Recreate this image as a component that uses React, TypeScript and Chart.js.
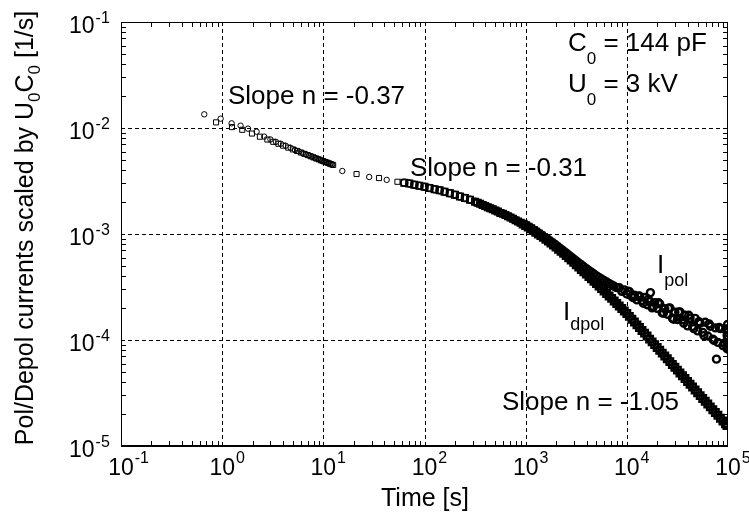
import { useEffect, useRef } from 'react';
import { Chart, registerables } from 'chart.js';

Chart.register(...registerables);

const FONT = '"Liberation Sans", Arial, Helvetica, sans-serif';

// ---- axes ----
const xDecades = [0.1, 1, 10, 100, 1000, 10000, 100000];
const xTickExps = ['-1', '0', '1', '2', '3', '4', '5'];
const yDecades = [1e-5, 1e-4, 1e-3, 1e-2, 1e-1];
const yTickExps = ['-5', '-4', '-3', '-2', '-1'];
const minorFactors = [2, 3, 4, 5, 6, 7, 8, 9];

// ---- data: early / sparse part ----
const polEarlyT = [0.665, 0.966, 1.24, 1.52, 1.80, 2.19, 2.6, 3.0, 3.4, 3.8, 4.25, 4.75, 5.25, 5.75, 6.25, 6.75, 7.25, 7.75, 8.25, 8.75, 9.25, 9.75, 10.25, 10.75, 11.25, 11.75, 12.25, 15.4, 28.4, 42.3];
const polEarlyI = [0.01346, 0.01225, 0.01107, 0.01052, 0.00986, 0.00923, 0.0083, 0.0078, 0.0074, 0.0071, 0.0068, 0.0065, 0.0062, 0.0060, 0.0058, 0.00565, 0.0055, 0.00536, 0.00523, 0.00512, 0.00501, 0.00491, 0.00482, 0.00474, 0.00466, 0.00459, 0.00452, 0.00393, 0.00345, 0.00324];

const dpolEarlyT = [0.87, 1.25, 1.58, 1.97, 2.36, 2.8, 3.2, 3.6, 4.0, 4.5, 5.0, 5.5, 6.0, 6.5, 7.0, 7.5, 8.0, 8.5, 9.0, 9.5, 10.0, 10.5, 11.0, 11.5, 12.0, 12.5, 21.3, 35.5, 54];
const dpolEarlyI = [0.0113, 0.0102, 0.00962, 0.00887, 0.00828, 0.00778, 0.00741, 0.00710, 0.00682, 0.00653, 0.00628, 0.00607, 0.00587, 0.00570, 0.00555, 0.00541, 0.00528, 0.00516, 0.00506, 0.00495, 0.00486, 0.00478, 0.00470, 0.00462, 0.00455, 0.00448, 0.00368, 0.00337, 0.00311];

// ---- data: dense band (shared sampling times, s) ----
const bandT = [
  63.1, 70.8, 79.4, 89.1, 100, 112, 126, 141, 158, 178, 200, 224, 251, 282,
  316, 335, 355, 376, 398, 422, 447, 473, 501, 531, 562, 596, 631, 668, 708, 750, 794, 841, 891, 944,
  1000, 1059, 1122, 1189, 1259, 1334, 1413, 1496, 1585, 1679, 1778, 1884, 1995, 2113, 2239, 2371, 2512, 2661, 2818, 2985,
  3162, 3350, 3548, 3758, 3981, 4217, 4467, 4732, 5012, 5309, 5623, 5957, 6310, 6683, 7079, 7499, 7943, 8414, 8913, 9441,
  10000, 10593, 11220, 11885, 12589, 13335, 14125, 14962, 15849, 16788, 17783, 18836, 19953, 21135, 22387, 23714, 25119, 26607, 28184, 29854,
  31623, 33497, 35481, 37584, 39811, 42170, 44668, 47315, 50119, 53088, 56234, 59566, 63096, 66834, 70795, 74989, 79433, 84140, 89125, 94406, 97700,
];

const dpolBandI = [
  3.05e-3, 3.00e-3, 2.92e-3, 2.85e-3, 2.79e-3, 2.72e-3, 2.64e-3, 2.58e-3, 2.51e-3, 2.43e-3, 2.35e-3, 2.26e-3, 2.19e-3, 2.10e-3,
  2.02e-3, 1.97e-3, 1.93e-3, 1.88e-3, 1.84e-3, 1.79e-3, 1.75e-3, 1.71e-3, 1.67e-3, 1.63e-3, 1.58e-3, 1.55e-3, 1.51e-3, 1.47e-3, 1.43e-3, 1.39e-3, 1.35e-3, 1.31e-3, 1.28e-3, 1.24e-3,
  1.20e-3, 1.16e-3, 1.12e-3, 1.08e-3, 1.04e-3, 1.00e-3, 9.66e-4, 9.29e-4, 8.93e-4, 8.57e-4, 8.22e-4, 7.87e-4, 7.53e-4, 7.19e-4, 6.87e-4, 6.56e-4, 6.25e-4, 5.96e-4, 5.68e-4, 5.40e-4,
  5.13e-4, 4.88e-4, 4.63e-4, 4.41e-4, 4.18e-4, 3.97e-4, 3.77e-4, 3.58e-4, 3.40e-4, 3.22e-4, 3.05e-4, 2.90e-4, 2.75e-4, 2.60e-4, 2.47e-4, 2.33e-4, 2.21e-4, 2.09e-4, 1.98e-4, 1.88e-4,
  1.78e-4, 1.67e-4, 1.57e-4, 1.48e-4, 1.39e-4, 1.31e-4, 1.23e-4, 1.16e-4, 1.09e-4, 1.02e-4, 9.61e-5, 9.04e-5, 8.51e-5, 8.00e-5, 7.52e-5, 7.06e-5, 6.65e-5, 6.25e-5, 5.87e-5, 5.53e-5,
  5.20e-5, 4.89e-5, 4.60e-5, 4.33e-5, 4.06e-5, 3.82e-5, 3.60e-5, 3.38e-5, 3.18e-5, 2.99e-5, 2.81e-5, 2.64e-5, 2.49e-5, 2.34e-5, 2.20e-5, 2.07e-5, 1.95e-5, 1.83e-5, 1.72e-5, 1.62e-5, 1.56e-5,
];

const polBandI = [
  3.05e-3, 3.00e-3, 2.92e-3, 2.85e-3, 2.79e-3, 2.72e-3, 2.64e-3, 2.58e-3, 2.51e-3, 2.43e-3, 2.35e-3, 2.26e-3, 2.19e-3, 2.10e-3,
  2.02e-3, 1.97e-3, 1.93e-3, 1.88e-3, 1.84e-3, 1.79e-3, 1.75e-3, 1.71e-3, 1.67e-3, 1.63e-3, 1.58e-3, 1.55e-3, 1.51e-3, 1.47e-3, 1.43e-3, 1.39e-3, 1.35e-3, 1.31e-3, 1.28e-3, 1.24e-3,
  1.21e-3, 1.17e-3, 1.13e-3, 1.09e-3, 1.06e-3, 1.02e-3, 9.84e-4, 9.48e-4, 9.14e-4, 8.79e-4, 8.45e-4, 8.13e-4, 7.82e-4, 7.50e-4, 7.19e-4, 6.90e-4, 6.62e-4, 6.34e-4, 6.07e-4, 5.81e-4,
  5.56e-4, 5.33e-4, 5.12e-4, 4.91e-4, 4.71e-4, 4.53e-4, 4.36e-4, 4.19e-4, 4.03e-4, 3.89e-4, 3.76e-4, 3.64e-4, 3.52e-4, 3.41e-4, 3.31e-4, 3.21e-4, 3.12e-4, 3.12e-4, 2.88e-4, 2.97e-4,
  2.72e-4, 2.86e-4, 2.57e-4, 2.64e-4, 2.39e-4, 2.60e-4, 2.36e-4, 2.52e-4, 2.15e-4, 2.30e-4, 2.01e-4, 2.25e-4, 1.99e-4, 2.19e-4, 1.80e-4, 1.97e-4, 1.75e-4, 2.01e-4, 1.61e-4, 1.83e-4,
  1.56e-4, 1.84e-4, 1.55e-4, 1.71e-4, 1.36e-4, 1.61e-4, 1.34e-4, 1.60e-4, 1.22e-4, 1.44e-4, 1.18e-4, 1.47e-4, 1.09e-4, 1.35e-4, 1.02e-4, 1.30e-4, 9.50e-5, 1.28e-4, 8.85e-5, 1.25e-4, 8.32e-5,
];

// ---- data: extra scattered polarisation points (late times) ----
const polExtraT = [10290, 11550, 12960, 14540, 16310, 18300, 20540, 23040, 25850, 29000, 32540, 36520, 40970, 45970, 51580, 57870, 64940, 72860, 81750, 91730, 99000, 98500, 99200, 98000, 99500, 98800, 97500, 99700, 17100, 76900];
const polExtraI = [2.88e-4, 2.51e-4, 2.59e-4, 2.22e-4, 2.42e-4, 2.06e-4, 2.25e-4, 1.80e-4, 1.99e-4, 1.57e-4, 1.84e-4, 1.44e-4, 1.71e-4, 1.28e-4, 1.49e-4, 1.10e-4, 1.42e-4, 9.89e-5, 1.31e-4, 9.35e-5, 1.40e-4, 1.28e-4, 1.18e-4, 1.10e-4, 1.02e-4, 9.5e-5, 8.8e-5, 8.2e-5, 2.8e-4, 6.6e-5];

function pts(t: number[], v: number[]) {
  return t.map((x, i) => ({ x, y: v[i] }));
}

type Part = [string, number, number]; // text, font size, baseline offset

function rich(ctx: CanvasRenderingContext2D, x: number, y: number, parts: Part[], align: 'left' | 'center' = 'left') {
  let w = 0;
  for (const [s, sz] of parts) {
    ctx.font = `${sz}px ${FONT}`;
    w += ctx.measureText(s).width;
  }
  let cx = align === 'center' ? x - w / 2 : x;
  for (const [s, sz, dy] of parts) {
    ctx.font = `${sz}px ${FONT}`;
    ctx.fillText(s, cx, y + dy);
    cx += ctx.measureText(s).width;
  }
}

const framePlugin = {
  id: 'frameAndText',
  beforeDatasetsDraw(chart: any) {
    const ctx: CanvasRenderingContext2D = chart.ctx;
    const xs = chart.scales.x;
    const ys = chart.scales.y;
    const { left, right, top, bottom } = chart.chartArea;
    ctx.save();
    ctx.strokeStyle = '#000';
    ctx.lineWidth = 1;
    ctx.setLineDash([4, 3]);
    ctx.beginPath();
    for (const d of xDecades.slice(1, -1)) {
      const px = Math.round(xs.getPixelForValue(d)) + 0.5;
      ctx.moveTo(px, top);
      ctx.lineTo(px, bottom);
    }
    for (const d of yDecades.slice(1, -1)) {
      const py = Math.round(ys.getPixelForValue(d)) + 0.5;
      ctx.moveTo(left, py);
      ctx.lineTo(right, py);
    }
    ctx.stroke();
    ctx.setLineDash([]);
    ctx.beginPath();
    for (const d of xDecades.slice(0, -1)) {
      for (const k of minorFactors) {
        const px = Math.round(xs.getPixelForValue(d * k)) + 0.5;
        ctx.moveTo(px, bottom);
        ctx.lineTo(px, bottom - 5);
        ctx.moveTo(px, top);
        ctx.lineTo(px, top + 5);
      }
    }
    for (const d of yDecades.slice(0, -1)) {
      for (const k of minorFactors) {
        const py = Math.round(ys.getPixelForValue(d * k)) + 0.5;
        ctx.moveTo(left, py);
        ctx.lineTo(left + 5, py);
        ctx.moveTo(right, py);
        ctx.lineTo(right - 5, py);
      }
    }
    ctx.stroke();
    ctx.lineWidth = 1;
    ctx.strokeRect(Math.round(left) + 0.5, Math.round(top) + 0.5, Math.round(right - left) - 1, Math.round(bottom - top) - 1);
    ctx.beginPath();
    ctx.lineWidth = 2;
    ctx.moveTo(left, Math.round(bottom));
    ctx.lineTo(right, Math.round(bottom));
    ctx.stroke();
    ctx.restore();
  },
  afterDatasetsDraw(chart: any) {
    const ctx: CanvasRenderingContext2D = chart.ctx;
    const xs = chart.scales.x;
    const ys = chart.scales.y;
    const { left, bottom } = chart.chartArea;
    ctx.save();
    ctx.fillStyle = '#000';
    ctx.textBaseline = 'alphabetic';
    ctx.textAlign = 'left';

    xDecades.forEach((d, i) => {
      const px = xs.getPixelForValue(d);
      ctx.font = `23px ${FONT}`;
      const w10 = ctx.measureText('10').width;
      ctx.fillText('10', px - w10 / 2, bottom + 29);
      ctx.font = `16px ${FONT}`;
      ctx.fillText(xTickExps[i], px + w10 / 2 + 1, bottom + 17);
    });
    yDecades.forEach((d, i) => {
      const py = ys.getPixelForValue(d);
      ctx.font = `23px ${FONT}`;
      const w10 = ctx.measureText('10').width;
      ctx.fillText('10', left - 52, py + 11);
      ctx.font = `16px ${FONT}`;
      ctx.fillText(yTickExps[i], left - 52 + w10 + 1, py + 1);
    });

    rich(ctx, 425, 506, [['Time [s]', 25, 0]], 'center');
    ctx.save();
    ctx.translate(33, 228);
    ctx.rotate(-Math.PI / 2);
    rich(ctx, 0, 0, [
      ['Pol/Depol currents scaled by U', 25, 0],
      ['0', 17, 7],
      ['C', 25, 0],
      ['0', 17, 7],
      [' [1/s]', 25, 0],
    ], 'center');
    ctx.restore();

    rich(ctx, 228, 104, [['Slope n = -0.37', 26, 0]]);
    rich(ctx, 410, 176, [['Slope n = -0.31', 26, 0]]);
    rich(ctx, 502, 410, [['Slope n = -1.05', 26, 0]]);
    rich(ctx, 568, 51, [['C', 26, 0], ['0', 17, 13], [' = 144 pF', 26, 0]]);
    rich(ctx, 568, 92, [['U', 26, 0], ['0', 17, 13], [' = 3 kV', 26, 0]]);
    rich(ctx, 657, 273, [['I', 26, 0], ['pol', 18, 12.5]]);
    rich(ctx, 563, 320, [['I', 26, 0], ['dpol', 18, 10]]);
    ctx.restore();
  },
};

const thin = { pointBorderWidth: 1, pointBorderColor: '#000', pointBackgroundColor: 'rgba(0,0,0,0)', borderColor: '#000', backgroundColor: 'rgba(0,0,0,0)' };
// heavier outline where the measured points pile up into a solid band
const bandWidth = (c: any) => (c.raw && c.raw.x >= 900 ? 2.4 : 1.5);
const bold = { pointBorderWidth: bandWidth, pointBorderColor: '#000', pointBackgroundColor: 'rgba(0,0,0,0)', borderColor: '#000', backgroundColor: 'rgba(0,0,0,0)' };

export default function App() {
  const ref = useRef<HTMLCanvasElement | null>(null);
  useEffect(() => {
    document.body.style.margin = '0';
    const canvas = ref.current;
    if (!canvas) return;
    const chart = new Chart(canvas, {
      type: 'scatter',
      data: {
        datasets: [
          { label: 'I_pol', data: pts(polEarlyT, polEarlyI), pointStyle: 'circle', pointRadius: 2.7, ...thin },
          { label: 'I_dpol', data: pts(dpolEarlyT, dpolEarlyI), pointStyle: 'rect', pointRadius: 3.6, ...thin },
          { label: 'I_pol (band)', data: [...pts(bandT, polBandI), ...pts(polExtraT, polExtraI)], pointStyle: 'circle', pointRadius: 3.5, ...bold },
          { label: 'I_dpol (band)', data: pts(bandT, dpolBandI), pointStyle: 'rect', pointRadius: 4.6, ...bold },
        ],
      },
      options: {
        responsive: false,
        animation: false,
        devicePixelRatio: 1,
        events: [],
        layout: { padding: { left: 121, top: 22, right: 21, bottom: 71 } },
        plugins: { legend: { display: false }, tooltip: { enabled: false } },
        scales: {
          x: { type: 'logarithmic', min: 0.1, max: 100000, display: false },
          y: { type: 'logarithmic', min: 1e-5, max: 0.1, display: false },
        },
      },
      plugins: [framePlugin],
    } as any);
    return () => chart.destroy();
  }, []);
  return (
    <div style={{ position: 'absolute', left: 0, top: 0, width: 749, height: 517, background: '#fff' }}>
      <canvas ref={ref} width={749} height={517} style={{ width: 749, height: 517, display: 'block' }} />
    </div>
  );
}
